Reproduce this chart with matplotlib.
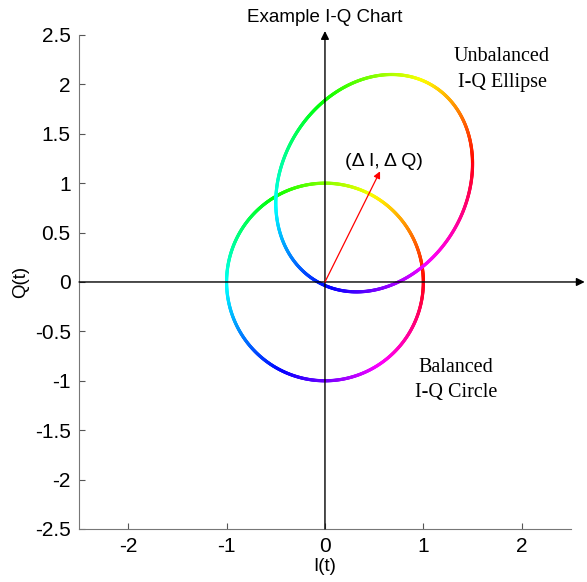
import numpy as np
import matplotlib
matplotlib.use("Agg")
import matplotlib.pyplot as plt
from matplotlib.collections import LineCollection

# values
circle_radius = 1.0
offset_i = 0.5      # delta I
offset_q = 1.0      # delta Q
gain_q = 1.1        # Q gain of the unbalanced branch
phase_err = 0.18    # radians
arrow_tip = (0.56, 1.12)
yticks = [-2.5, -2, -1.5, -1, -0.5, 0, 0.5, 1, 1.5, 2, 2.5]
xticks = [-2, -1, 0, 1, 2]

plt.rcParams['font.family'] = ['Liberation Sans', 'DejaVu Sans']

fig = plt.figure(figsize=(5.87, 5.82), dpi=100)
ax = fig.add_axes([0.1346, 0.0911, 0.838, 0.8488])

t = np.linspace(0, 2 * np.pi, 721)


def colored_curve(x, y):
    pts = np.column_stack([x, y]).reshape(-1, 1, 2)
    segs = np.concatenate([pts[:-1], pts[1:]], axis=1)
    lc = LineCollection(segs, cmap='hsv', linewidth=2.3, capstyle='round')
    lc.set_array(t[:-1] / (2 * np.pi))
    lc.set_clim(0, 1)
    ax.add_collection(lc)


colored_curve(circle_radius * np.cos(t), circle_radius * np.sin(t))
colored_curve(offset_i + np.cos(t), offset_q + gain_q * np.sin(t + phase_err))

# axis arrows through origin
ax.annotate('', xy=(2.64, 0), xytext=(-2.5, 0), annotation_clip=False,
            arrowprops=dict(arrowstyle='-|>', color='black', lw=1.0,
                            mutation_scale=12, shrinkA=0, shrinkB=0))
ax.annotate('', xy=(0, 2.54), xytext=(0, -2.5), annotation_clip=False,
            arrowprops=dict(arrowstyle='-|>', color='black', lw=1.0,
                            mutation_scale=12, shrinkA=0, shrinkB=0))
ax.annotate('', xy=arrow_tip, xytext=(0, 0),
            arrowprops=dict(arrowstyle='-|>', color='red', lw=0.9,
                            mutation_scale=10, shrinkA=0, shrinkB=0))

ax.text(0.6, 1.22, '(\u0394 I, \u0394 Q)', fontsize=14, ha='center', va='center')
ax.text(1.8, 2.15, 'Unbalanced\nI-Q Ellipse', fontsize=14.5, ha='center', va='center',
        family='Liberation Serif', linespacing=1.45)
ax.text(1.33, -0.99, 'Balanced\nI-Q Circle', fontsize=14.5, ha='center', va='center',
        family='Liberation Serif', linespacing=1.45)

ax.set_xlim(-2.5, 2.5)
ax.set_ylim(-2.5, 2.5)
ax.set_xticks(xticks)
ax.set_yticks(yticks)
ax.set_xticklabels([str(v) for v in xticks])
ax.set_yticklabels(['%g' % v for v in yticks])
ax.tick_params(direction='in', length=4, labelsize=15, color='#555555', pad=6)
for s in ['top', 'right']:
    ax.spines[s].set_visible(False)
for s in ['left', 'bottom']:
    ax.spines[s].set_color('#777777')

ax.set_title('Example I-Q Chart', fontsize=13.5, pad=9)
ax.set_xlabel('I(t)', fontsize=13.5, labelpad=1)
ax.set_ylabel('Q(t)', fontsize=13.5, labelpad=4)

fig.savefig('out.png', dpi=100)
